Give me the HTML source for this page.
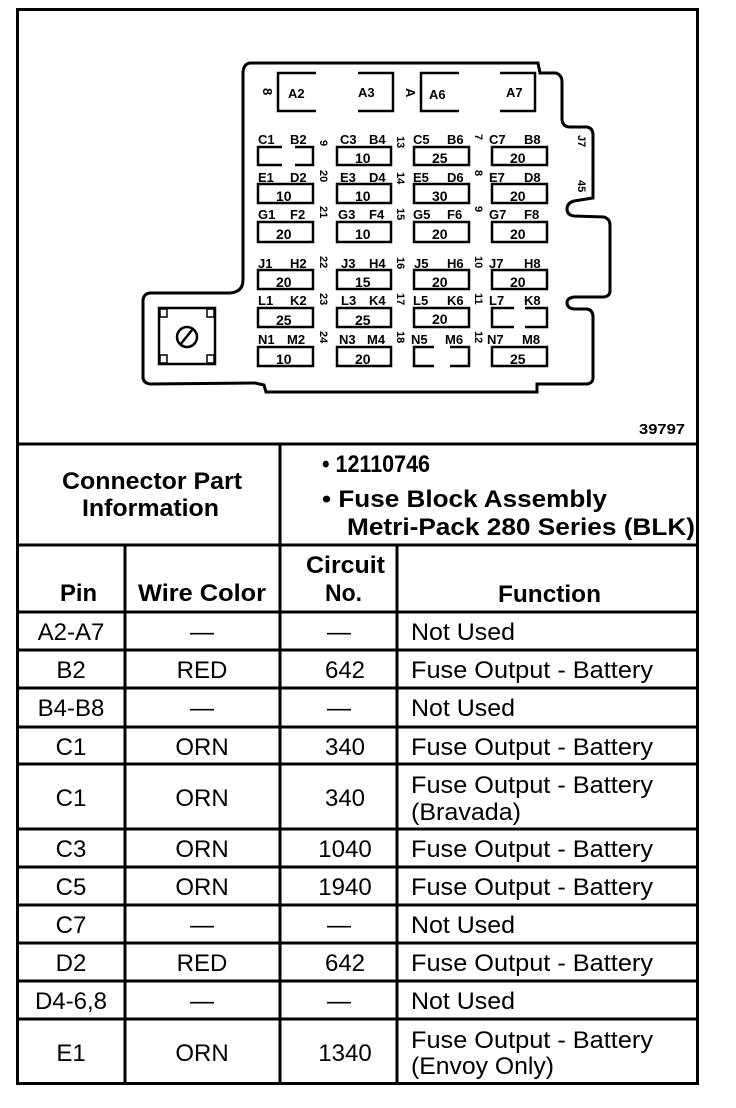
<!DOCTYPE html>
<html><head><meta charset="utf-8"><style>
html,body{margin:0;padding:0;background:#fff;}
svg{display:block;}
text{font-family:"Liberation Sans",Arial,sans-serif;fill:#000;}
.t{font-size:24px;}
.h{font-size:24px;font-weight:bold;}
.f{font-size:13px;font-weight:bold;}
.n{font-size:14px;font-weight:bold;}
</style></head><body>
<svg width="736" height="1108" viewBox="0 0 736 1108" xmlns="http://www.w3.org/2000/svg">
<rect x="17.5" y="9.5" width="680" height="1074" fill="none" stroke="#000" stroke-width="3"/>
<line x1="16" y1="444" x2="699" y2="444" stroke="#000" stroke-width="3"/>
<line x1="16" y1="545" x2="699" y2="545" stroke="#000" stroke-width="3"/>
<line x1="280" y1="444" x2="280" y2="1084" stroke="#000" stroke-width="3"/>
<line x1="125" y1="545" x2="125" y2="1084" stroke="#000" stroke-width="3"/>
<line x1="397" y1="545" x2="397" y2="1084" stroke="#000" stroke-width="3"/>
<g stroke="#000" stroke-width="3">
<line x1="16" y1="612" x2="699" y2="612"/>
<line x1="16" y1="650" x2="699" y2="650"/>
<line x1="16" y1="688" x2="699" y2="688"/>
<line x1="16" y1="727" x2="699" y2="727"/>
<line x1="16" y1="764" x2="699" y2="764"/>
<line x1="16" y1="829" x2="699" y2="829"/>
<line x1="16" y1="867" x2="699" y2="867"/>
<line x1="16" y1="905" x2="699" y2="905"/>
<line x1="16" y1="943" x2="699" y2="943"/>
<line x1="16" y1="981" x2="699" y2="981"/>
<line x1="16" y1="1019" x2="699" y2="1019"/>
</g>

<path d="M251,63 L538,63 L540,73 L556,73 Q562,75 562,82 L562,120 Q563,127 570,127 L587,127 Q593,128 593,135 L593,198 L574,201 Q567,203 567,209 Q567,215 574,216 L604,217 Q610,219 610,225 L610,291 Q610,296 604,297 L574,297 Q567,298 567,303 Q567,308 574,309 L587,309 Q593,310 593,317 L593,378 Q593,383 587,384 L537,384 L537,392 L266,392 L264,385 L255,383 L150,384 Q143,383 143,377 L143,300 Q144,293 151,293 L230,293 Q243,292 243,280 L243,72 Q244,63 251,63 Z" fill="none" stroke="#000" stroke-width="3"/>

<g fill="none" stroke="#000" stroke-width="2.5">
<path d="M316,73 L278,73 L278,111 L316,111"/>
<path d="M358,73 L393,73 L393,111 L358,111"/>
<path d="M459,73 L421,73 L421,111 L459,111"/>
<path d="M500,73 L535,73 L535,111 L500,111"/>
</g>
<text class="f" transform="translate(263,88) rotate(90)">8</text>
<text x="288" y="98" class="f">A2</text>
<text x="358" y="97" class="f">A3</text>
<text x="429" y="99" class="f">A6</text>
<text x="506" y="97" class="f">A7</text>
<text class="f" transform="translate(406,88) rotate(90)">A</text>

<g fill="none" stroke="#000" stroke-width="2.5">
<path d="M282,147 L258,147 L258,165 L282,165 M295,147 L313,147 L313,165 L295,165"/>
<rect x="337" y="147" width="54" height="18"/>
<rect x="414" y="147" width="55" height="18"/>
<rect x="492" y="147" width="55" height="18"/>
<rect x="258" y="184" width="55" height="19"/>
<rect x="337" y="184" width="54" height="19"/>
<rect x="414" y="184" width="55" height="19"/>
<rect x="492" y="184" width="55" height="19"/>
<rect x="258" y="222" width="55" height="20"/>
<rect x="337" y="222" width="54" height="20"/>
<rect x="414" y="222" width="55" height="20"/>
<rect x="492" y="222" width="55" height="20"/>
<rect x="258" y="270" width="55" height="19"/>
<rect x="337" y="270" width="54" height="19"/>
<rect x="414" y="270" width="55" height="19"/>
<rect x="492" y="270" width="55" height="19"/>
<rect x="258" y="308" width="55" height="19"/>
<rect x="337" y="308" width="54" height="19"/>
<rect x="414" y="308" width="55" height="19"/>
<path d="M514,308 L492,308 L492,327 L514,327 M525,308 L547,308 L547,327 L525,327"/>
<rect x="258" y="347" width="55" height="19"/>
<rect x="337" y="347" width="54" height="19"/>
<path d="M434,347 L414,347 L414,366 L434,366 M450,347 L469,347 L469,366 L450,366"/>
<rect x="492" y="347" width="55" height="19"/>
</g>
<g>
<text x="258" y="144" class="f">C1</text><text x="290" y="144" class="f">B2</text>
<text x="340" y="144" class="f">C3</text><text x="369" y="144" class="f">B4</text>
<text x="413" y="144" class="f">C5</text><text x="447" y="144" class="f">B6</text>
<text x="489" y="144" class="f">C7</text><text x="524" y="144" class="f">B8</text>
<text x="258" y="182" class="f">E1</text><text x="290" y="182" class="f">D2</text>
<text x="340" y="182" class="f">E3</text><text x="369" y="182" class="f">D4</text>
<text x="413" y="182" class="f">E5</text><text x="447" y="182" class="f">D6</text>
<text x="489" y="182" class="f">E7</text><text x="524" y="182" class="f">D8</text>
<text x="258" y="219" class="f">G1</text><text x="290" y="219" class="f">F2</text>
<text x="338" y="219" class="f">G3</text><text x="369" y="219" class="f">F4</text>
<text x="413" y="219" class="f">G5</text><text x="447" y="219" class="f">F6</text>
<text x="489" y="219" class="f">G7</text><text x="524" y="219" class="f">F8</text>
<text x="258" y="268" class="f">J1</text><text x="290" y="268" class="f">H2</text>
<text x="341" y="268" class="f">J3</text><text x="369" y="268" class="f">H4</text>
<text x="414" y="268" class="f">J5</text><text x="447" y="268" class="f">H6</text>
<text x="489" y="268" class="f">J7</text><text x="524" y="268" class="f">H8</text>
<text x="258" y="305" class="f">L1</text><text x="290" y="305" class="f">K2</text>
<text x="341" y="305" class="f">L3</text><text x="369" y="305" class="f">K4</text>
<text x="413" y="305" class="f">L5</text><text x="447" y="305" class="f">K6</text>
<text x="489" y="305" class="f">L7</text><text x="524" y="305" class="f">K8</text>
<text x="258" y="344" class="f">N1</text><text x="287" y="344" class="f">M2</text>
<text x="339" y="344" class="f">N3</text><text x="367" y="344" class="f">M4</text>
<text x="411" y="344" class="f">N5</text><text x="445" y="344" class="f">M6</text>
<text x="487" y="344" class="f">N7</text><text x="522" y="344" class="f">M8</text>
</g>
<g>
<text x="355" y="163" class="n">10</text><text x="432" y="163" class="n">25</text><text x="510" y="163" class="n">20</text>
<text x="276" y="201" class="n">10</text><text x="355" y="201" class="n">10</text><text x="432" y="201" class="n">30</text><text x="510" y="201" class="n">20</text>
<text x="276" y="239" class="n">20</text><text x="355" y="239" class="n">10</text><text x="432" y="239" class="n">20</text><text x="510" y="239" class="n">20</text>
<text x="276" y="287" class="n">20</text><text x="355" y="287" class="n">15</text><text x="432" y="287" class="n">20</text><text x="510" y="287" class="n">20</text>
<text x="276" y="325" class="n">25</text><text x="355" y="325" class="n">25</text><text x="432" y="324" class="n">20</text>
<text x="276" y="364" class="n">10</text><text x="355" y="364" class="n">20</text><text x="510" y="364" class="n">25</text>
</g>
<g font-size="11" font-weight="bold">
<text transform="translate(320,140) rotate(90)">9</text>
<text transform="translate(320,170) rotate(90)">20</text>
<text transform="translate(320,206) rotate(90)">21</text>
<text transform="translate(320,256) rotate(90)">22</text>
<text transform="translate(320,293) rotate(90)">23</text>
<text transform="translate(320,331) rotate(90)">24</text>
<text transform="translate(397,136) rotate(90)">13</text>
<text transform="translate(397,172) rotate(90)">14</text>
<text transform="translate(397,208) rotate(90)">15</text>
<text transform="translate(397,257) rotate(90)">16</text>
<text transform="translate(397,293) rotate(90)">17</text>
<text transform="translate(397,331) rotate(90)">18</text>
<text transform="translate(475,134) rotate(90)">7</text>
<text transform="translate(475,170) rotate(90)">8</text>
<text transform="translate(475,206) rotate(90)">9</text>
<text transform="translate(475,256) rotate(90)">10</text>
<text transform="translate(475,293) rotate(90)">11</text>
<text transform="translate(475,331) rotate(90)">12</text>
<text transform="translate(578,135) rotate(90)">J7</text>
<text transform="translate(578,180) rotate(90)">45</text>
</g>
<rect x="159" y="308" width="56" height="56" fill="none" stroke="#000" stroke-width="2.5"/>
<rect x="160" y="309" width="7" height="8" fill="none" stroke="#000" stroke-width="1.5"/>
<rect x="207" y="309" width="7" height="8" fill="none" stroke="#000" stroke-width="1.5"/>
<rect x="160" y="355" width="7" height="8" fill="none" stroke="#000" stroke-width="1.5"/>
<rect x="207" y="355" width="7" height="8" fill="none" stroke="#000" stroke-width="1.5"/>
<circle cx="187" cy="337" r="10" fill="none" stroke="#000" stroke-width="2.5"/>
<line x1="180" y1="345" x2="192" y2="330" stroke="#000" stroke-width="2.5"/>

<text x="639" y="434" font-size="15" font-weight="bold" textLength="46" lengthAdjust="spacingAndGlyphs">39797</text>

<g class="h">
<text x="62" y="489" textLength="180" lengthAdjust="spacingAndGlyphs">Connector Part</text>
<text x="82" y="516" textLength="137" lengthAdjust="spacingAndGlyphs">Information</text>
<text x="322" y="472" textLength="108" lengthAdjust="spacingAndGlyphs">• 12110746</text>
<text x="322" y="507" textLength="285" lengthAdjust="spacingAndGlyphs">• Fuse Block Assembly</text>
<text x="347" y="535" textLength="348" lengthAdjust="spacingAndGlyphs">Metri-Pack 280 Series (BLK)</text>
<text x="60" y="601" textLength="37" lengthAdjust="spacingAndGlyphs">Pin</text>
<text x="138" y="601" textLength="128" lengthAdjust="spacingAndGlyphs">Wire Color</text>
<text x="306" y="573" textLength="79" lengthAdjust="spacingAndGlyphs">Circuit</text>
<text x="325" y="601" textLength="37" lengthAdjust="spacingAndGlyphs">No.</text>
<text x="498" y="602" textLength="103" lengthAdjust="spacingAndGlyphs">Function</text>
</g>

<g class="t" text-anchor="middle">
<text x="71" y="640">A2-A7</text><text x="202" y="640">—</text><text x="339" y="640">—</text>
<text x="71" y="678">B2</text><text x="202" y="678">RED</text><text x="345" y="678">642</text>
<text x="71" y="716">B4-B8</text><text x="202" y="716">—</text><text x="339" y="716">—</text>
<text x="71" y="755">C1</text><text x="202" y="755">ORN</text><text x="345" y="755">340</text>
<text x="71" y="806">C1</text><text x="202" y="806">ORN</text><text x="345" y="806">340</text>
<text x="71" y="857">C3</text><text x="202" y="857">ORN</text><text x="345" y="857">1040</text>
<text x="71" y="895">C5</text><text x="202" y="895">ORN</text><text x="345" y="895">1940</text>
<text x="71" y="933">C7</text><text x="202" y="933">—</text><text x="339" y="933">—</text>
<text x="71" y="971">D2</text><text x="202" y="971">RED</text><text x="345" y="971">642</text>
<text x="71" y="1009">D4-6,8</text><text x="202" y="1009">—</text><text x="339" y="1009">—</text>
<text x="71" y="1061">E1</text><text x="202" y="1061">ORN</text><text x="345" y="1061">1340</text>
</g>
<g class="t">
<text x="411" y="640" textLength="104" lengthAdjust="spacingAndGlyphs">Not Used</text>
<text x="411" y="678" textLength="242" lengthAdjust="spacingAndGlyphs">Fuse Output - Battery</text>
<text x="411" y="716" textLength="104" lengthAdjust="spacingAndGlyphs">Not Used</text>
<text x="411" y="755" textLength="242" lengthAdjust="spacingAndGlyphs">Fuse Output - Battery</text>
<text x="411" y="793" textLength="242" lengthAdjust="spacingAndGlyphs">Fuse Output - Battery</text>
<text x="411" y="820" textLength="110" lengthAdjust="spacingAndGlyphs">(Bravada)</text>
<text x="411" y="857" textLength="242" lengthAdjust="spacingAndGlyphs">Fuse Output - Battery</text>
<text x="411" y="895" textLength="242" lengthAdjust="spacingAndGlyphs">Fuse Output - Battery</text>
<text x="411" y="933" textLength="104" lengthAdjust="spacingAndGlyphs">Not Used</text>
<text x="411" y="971" textLength="242" lengthAdjust="spacingAndGlyphs">Fuse Output - Battery</text>
<text x="411" y="1009" textLength="104" lengthAdjust="spacingAndGlyphs">Not Used</text>
<text x="411" y="1048" textLength="242" lengthAdjust="spacingAndGlyphs">Fuse Output - Battery</text>
<text x="411" y="1074" textLength="143" lengthAdjust="spacingAndGlyphs">(Envoy Only)</text>
</g>
</svg>
</body></html>
